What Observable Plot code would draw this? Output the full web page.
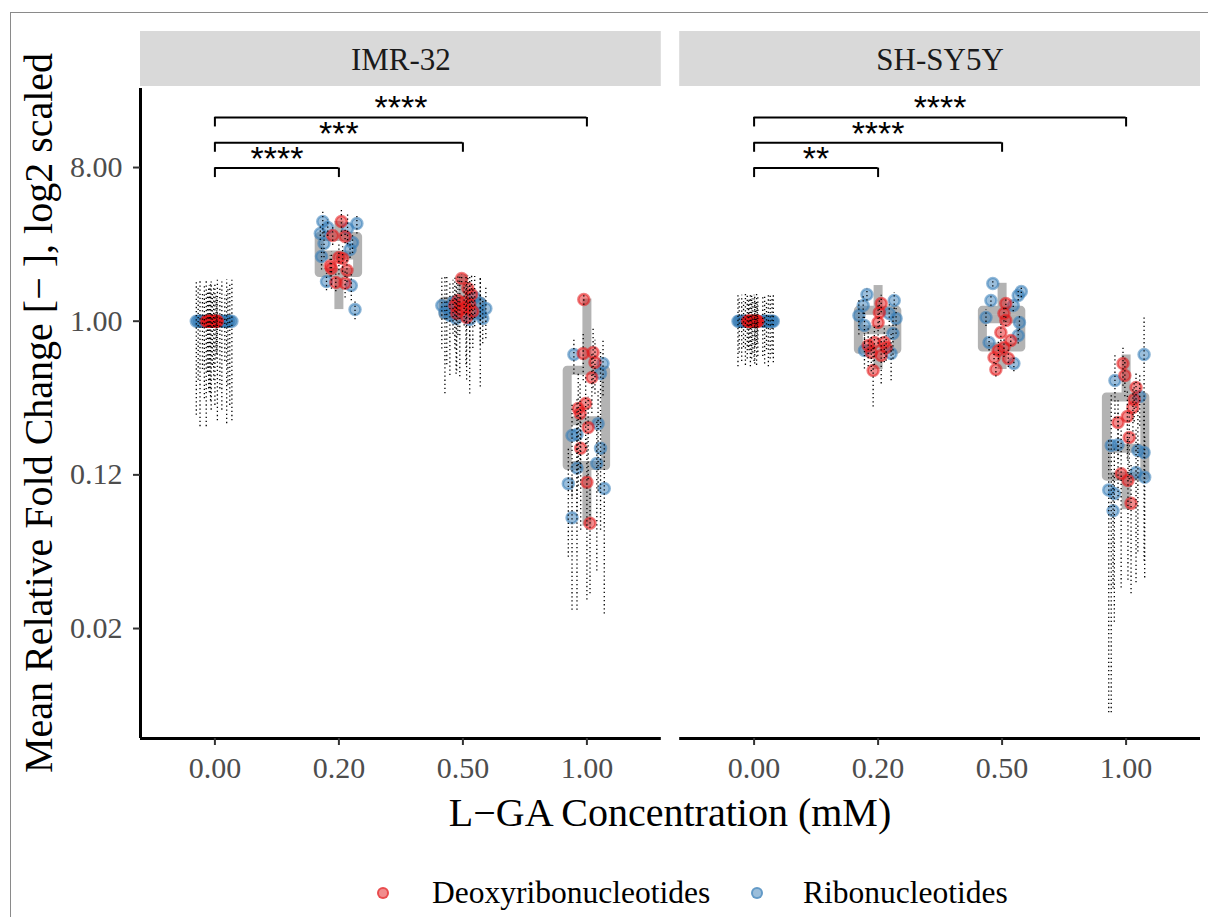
<!DOCTYPE html>
<html>
<head>
<meta charset="utf-8">
<script src="https://cdn.jsdelivr.net/npm/d3@7"></script>
<script src="https://cdn.jsdelivr.net/npm/@observablehq/plot@0.6"></script>
<style>
  body { margin: 0; background: #fff; }
  #fig { position: relative; width: 1208px; height: 917px; overflow: hidden; background: #fff; }
  #chart { position: absolute; left: 0; top: 0; }
  #border { position: absolute; left: 10px; top: 12px; width: 1300px; height: 1000px;
            border-left: 1px solid #8a8a8a; border-top: 1px solid #8a8a8a; pointer-events: none; }
  #legend { position: absolute; left: 0; top: 850px; width: 1208px; height: 67px;
            font-family: "Liberation Serif", serif; font-size: 31.5px; color: #000; }
  #legend .key { position: absolute; width: 8px; height: 8px; border-radius: 50%; top: 37px; }
  #legend .lab { position: absolute; top: 27px; line-height: 31.5px; white-space: nowrap; }
</style>
</head>
<body>
<div id="fig">
  <div id="chart"></div>
  <div id="legend">
    <span class="key" style="left:377px; background: rgba(228,26,28,0.5); border: 2px solid rgba(228,26,28,0.55);"></span>
    <span class="lab" style="left:432px;">Deoxyribonucleotides</span>
    <span class="key" style="left:751px; background: rgba(55,126,184,0.5); border: 2px solid rgba(55,126,184,0.55);"></span>
    <span class="lab" style="left:803px;">Ribonucleotides</span>
  </div>
  <div id="border"></div>
</div>
<script>
// ---------------- DATA ----------------
const cells = ["IMR-32", "SH-SY5Y"];
const concLabels = ["0.00", "0.20", "0.50", "1.00"];
const types = ["Deoxyribonucleotides", "Ribonucleotides"];
const yTicks = [1 / 64, 1 / 8, 1, 8];
const yTickLabels = ["0.02", "0.12", "1.00", "8.00"];
const yTitle = "Mean Relative Fold Change [\u2212 ], log2 scaled";
const xTitle = "L\u2212GA Concentration (mM)";

// IMR-32, per concentration: mean relative fold change, jitter (fraction of a category), SD
const imrDeoxyValue = [
  [1, 1, 1, 1, 1, 1, 1, 1, 1, 1, 1, 1],
  [3.85, 3.19, 3.15, 2.37, 2.34, 2.12, 2.04, 1.99, 1.69, 1.67],
  [1.78, 1.556, 1.435, 1.323, 1.288, 1.254, 1.237, 1.204, 1.171, 1.140, 1.051, 1.110],
  [1.341, 0.646, 0.655, 0.572, 0.467, 0.328, 0.307, 0.287, 0.237, 0.179, 0.113, 0.065]
];
const imrDeoxyJitter = [
  [-0.07, -0.06, -0.045, -0.03, -0.02, -0.01, 0.0, 0.01, 0.02, -0.05, 0.015, -0.035],
  [0.02, -0.05, 0.05, 0.0, 0.03, -0.07, -0.06, 0.065, -0.025, 0.05],
  [-0.01, 0.04, 0.07, -0.04, 0.01, 0.055, -0.065, 0.025, -0.025, 0.08, 0.03, -0.05],
  [-0.025, -0.03, 0.05, 0.065, 0.04, -0.01, -0.07, -0.055, 0.01, -0.05, 0.0, 0.025]
];
const imrDeoxySD = [
  [0.76, 0.5, 0.62, 0.7, 0.45, 0.55, 0.68, 0.4, 0.74, 0.6, 0.35, 0.66],
  [0.7, 0.4, 0.3, 0.5, 0.4, 0.3, 0.5, 0.3, 0.2, 0.3],
  [0.1, 0.3, 0.4, 0.5, 0.35, 0.6, 0.55, 0.65, 0.7, 0.45, 0.6, 0.6],
  [0.1, 0.2, 0.25, 0.2, 0.18, 0.15, 0.2, 0.15, 0.12, 0.12, 0.09, 0.04]
];
const imrRiboValue = [
  [1, 1, 1, 1, 1, 1, 1, 1, 1, 1, 1, 1],
  [3.85, 3.75, 3.55, 3.51, 3.28, 2.90, 2.86, 2.64, 2.40, 1.71, 1.62, 1.17],
  [1.204, 1.080, 1.288, 1.271, 1.110, 1.037, 1.378, 1.125, 1.037, 1.188, 1.237, 1.023],
  [0.637, 0.564, 0.493, 0.250, 0.213, 0.216, 0.179, 0.146, 0.137, 0.111, 0.104, 0.070]
];
const imrRiboJitter = [
  [-0.15, -0.135, -0.12, -0.1, -0.085, 0.04, 0.056, 0.08, 0.095, 0.105, 0.12, 0.137],
  [-0.13, 0.145, -0.09, 0.07, -0.15, 0.11, -0.12, 0.09, -0.14, -0.10, 0.10, 0.13],
  [-0.13, -0.105, -0.08, 0.14, 0.14, 0.16, 0.095, -0.145, -0.055, 0.185, -0.17, 0.055],
  [-0.105, 0.13, 0.11, 0.09, -0.12, -0.08, 0.11, 0.08, -0.08, -0.15, 0.14, -0.12]
];
const imrRiboSD = [
  [0.72, 0.55, 0.76, 0.48, 0.65, 0.6, 0.7, 0.42, 0.75, 0.58, 0.68, 0.74],
  [0.6, 0.5, 0.4, 0.7, 0.3, 0.4, 0.5, 0.3, 0.4, 0.2, 0.3, 0.15],
  [0.65, 0.6, 0.45, 0.55, 0.7, 0.3, 0.45, 0.75, 0.55, 0.4, 0.55, 0.65],
  [0.15, 0.2, 0.18, 0.15, 0.12, 0.14, 0.12, 0.112, 0.117, 0.07, 0.085, 0.05]
];

// SH-SY5Y
const shDeoxyValue = [
  [1, 1, 1, 1, 1, 1, 1, 1, 1, 1, 1, 1],
  [1.271, 1.125, 0.983, 0.749, 0.749, 0.655, 0.628, 0.513, 0.701, 0.719],
  [1.271, 1.110, 1.010, 0.858, 0.770, 0.673, 0.612, 0.604, 0.520, 0.701],
  [0.564, 0.480, 0.408, 0.346, 0.311, 0.275, 0.254, 0.207, 0.127, 0.116, 0.085]
];
const shDeoxyJitter = [
  [-0.055, -0.045, -0.03, -0.015, 0.0, 0.01, 0.02, 0.03, -0.04, 0.005, 0.025, -0.02],
  [0.025, 0.01, 0.0, -0.03, 0.05, -0.055, 0.025, -0.04, 0.065, -0.08],
  [0.03, 0.015, 0.03, -0.01, 0.07, -0.03, -0.065, 0.05, -0.05, 0.015],
  [-0.025, -0.01, 0.08, 0.065, 0.055, 0.01, -0.065, 0.025, -0.04, 0.015, 0.04]
];
const shDeoxySD = [
  [0.4, 0.3, 0.46, 0.35, 0.42, 0.28, 0.45, 0.38, 0.33, 0.44, 0.25, 0.4],
  [0.15, 0.2, 0.25, 0.2, 0.18, 0.15, 0.2, 0.2, 0.12, 0.18],
  [0.1, 0.12, 0.08, 0.1, 0.06, 0.08, 0.05, 0.07, 0.05, 0.09],
  [0.15, 0.12, 0.1, 0.09, 0.1, 0.12, 0.1, 0.09, 0.1, 0.086, 0.06]
];
const shRiboValue = [
  [1, 1, 1, 1, 1, 1, 1, 1, 1, 1, 1, 1],
  [1.435, 1.237, 1.080, 0.943, 1.323, 1.037, 0.847, 0.673, 0.646, 1.110],
  [1.666, 1.323, 1.495, 1.416, 1.051, 0.749, 0.983, 0.824, 0.564, 1.237],
  [0.637, 0.448, 0.361, 0.186, 0.188, 0.174, 0.169, 0.129, 0.121, 0.102, 0.097, 0.077]
];
const shRiboJitter = [
  [-0.13, -0.12, -0.1, -0.085, -0.07, 0.07, 0.085, 0.1, 0.115, 0.13, 0.145, 0.155],
  [-0.09, -0.12, -0.155, -0.11, 0.13, 0.145, 0.12, -0.11, 0.105, 0.09],
  [-0.075, -0.09, 0.155, 0.13, -0.13, -0.105, 0.14, 0.13, 0.095, 0.09],
  [0.145, -0.09, 0.11, -0.12, -0.065, 0.095, 0.145, 0.08, 0.15, -0.14, -0.095, -0.105]
];
const shRiboSD = [
  [0.46, 0.35, 0.42, 0.3, 0.45, 0.38, 0.44, 0.32, 0.46, 0.4, 0.36, 0.43],
  [0.12, 0.2, 0.25, 0.2, 0.15, 0.2, 0.25, 0.15, 0.2, 0.18],
  [0.08, 0.1, 0.12, 0.1, 0.12, 0.08, 0.1, 0.09, 0.06, 0.1],
  [0.42, 0.18, 0.12, 0.181, 0.1, 0.13, 0.13, 0.1, 0.09, 0.097, 0.08, 0.05]
];

// Box plot statistics per cell line (rows) and concentration (columns)
const boxLo  = [[1, 1.17, 0.99, 0.0625], [1, 0.52, 0.52, 0.078]];
const boxQ1  = [[1, 1.92, 1.08, 0.141],  [1, 0.68, 0.70, 0.122]];
const boxMed = [[1, 2.45, 1.16, 0.26],   [1, 0.89, 1.035, 0.179]];
const boxQ3  = [[1, 3.12, 1.30, 0.512],  [1, 1.15, 1.15, 0.356]];
const boxHi  = [[1, 3.86, 1.87, 1.35],   [1, 1.62, 1.67, 0.633]];

// Significance brackets (vs 0.00 mM)
const bracketTo = [1, 2, 3];
const bracketY = [7.94, 11.18, 15.75];
const imrBracketLabels = ["****", "***", "****"];
const shBracketLabels = ["**", "****", "****"];

// ---------------- BUILD ----------------
const series = [
  {cell: cells[0], type: types[1], v: imrRiboValue, j: imrRiboJitter, s: imrRiboSD},
  {cell: cells[1], type: types[1], v: shRiboValue, j: shRiboJitter, s: shRiboSD},
  {cell: cells[0], type: types[0], v: imrDeoxyValue, j: imrDeoxyJitter, s: imrDeoxySD},
  {cell: cells[1], type: types[0], v: shDeoxyValue, j: shDeoxyJitter, s: shDeoxySD}
];
const points = series.flatMap(s => s.v.flatMap((vals, i) => vals.map((v, k) => ({
  cell: s.cell, type: s.type, i, value: v, jit: s.j[i][k], sd: s.s[i][k]
}))));
const boxes = cells.flatMap((cell, c) => concLabels.map((_, i) => ({
  cell, i, lo: boxLo[c][i], q1: boxQ1[c][i], med: boxMed[c][i], q3: boxQ3[c][i], hi: boxHi[c][i]
})));
const brackets = cells.flatMap((cell, c) => bracketTo.map((to, k) => ({
  cell, from: 0, to, y: bracketY[k], label: (c === 0 ? imrBracketLabels : shBracketLabels)[k]
})));

const W = 1208, H = 850;
const yDomain = [2 ** -8.147, 2 ** 4.543];
const xDomain = [-0.6, 3.6];
const tip = 2 ** -0.185;
const boxHalf = 0.155;
const grey = "#b3b3b3";

const chart = Plot.plot({
  width: W, height: H,
  marginLeft: 140, marginRight: 8, marginTop: 88, marginBottom: H - 738,
  style: {fontFamily: "Liberation Serif", background: "transparent", overflow: "visible"},
  x: {type: "linear", domain: xDomain, axis: null},
  y: {type: "log", base: 2, domain: yDomain, axis: null},
  fx: {domain: cells, paddingInner: 0.0341, paddingOuter: 0, round: false, axis: null},
  color: {domain: types, range: ["#E41A1C", "#377EB8"]},
  marks: [
    // strip headers
    Plot.rect(cells, {fx: d => d, x1: xDomain[0], x2: xDomain[1], y1: 2 ** 4.582, y2: 2 ** 5.656, fill: "#d9d9d9"}),
    Plot.text(cells, {fx: d => d, frameAnchor: "top", dy: -41, text: d => d, fontSize: 31, fill: "#1a1a1a"}),
    // box plots
    Plot.ruleX(boxes, {fx: "cell", x: "i", y1: "q3", y2: "hi", stroke: grey, strokeWidth: 9}),
    Plot.ruleX(boxes, {fx: "cell", x: "i", y1: "lo", y2: "q1", stroke: grey, strokeWidth: 9}),
    Plot.rect(boxes, {fx: "cell", x1: d => d.i - boxHalf, x2: d => d.i + boxHalf, y1: "q1", y2: "q3",
      fill: "none", stroke: grey, strokeWidth: 9, strokeLinejoin: "round"}),
    Plot.ruleY(boxes, {fx: "cell", y: "med", x1: d => d.i - boxHalf, x2: d => d.i + boxHalf, stroke: grey, strokeWidth: 9}),
    // points
    Plot.dot(points, {fx: "cell", x: d => d.i + d.jit, y: "value", r: 5.5, fill: "type", stroke: "type",
      fillOpacity: 0.5, strokeOpacity: 0.55, strokeWidth: 2.5}),
    // dotted error bars
    Plot.ruleX(points, {fx: "cell", x: d => d.i + d.jit, y1: d => d.value - d.sd, y2: d => d.value + d.sd,
      stroke: "#000", strokeWidth: 1.3, strokeDasharray: "1.3,2.8"}),
    // significance brackets
    Plot.ruleY(brackets, {fx: "cell", y: "y", x1: "from", x2: "to", stroke: "#000", strokeWidth: 2}),
    Plot.ruleX(brackets, {fx: "cell", x: "from", y1: d => d.y * tip, y2: "y", stroke: "#000", strokeWidth: 2}),
    Plot.ruleX(brackets, {fx: "cell", x: "to", y1: d => d.y * tip, y2: "y", stroke: "#000", strokeWidth: 2}),
    Plot.text(brackets, {fx: "cell", x: d => (d.from + d.to) / 2, y: "y", text: "label", dy: -9,
      fontFamily: "Liberation Sans", fontSize: 34, fill: "#000"}),
    // axis lines
    Plot.ruleY(cells, {fx: d => d, y: yDomain[0], x1: xDomain[0], x2: xDomain[1], stroke: "#000", strokeWidth: 3}),
    Plot.ruleX([cells[0]], {fx: d => d, x: xDomain[0], y1: yDomain[0], y2: yDomain[1], stroke: "#000", strokeWidth: 3}),
    // axes
    Plot.axisY({anchor: "left", facetAnchor: "left", ticks: yTicks, tickFormat: (d, i) => yTickLabels[yTicks.indexOf(d)],
      tickSize: 7, tickPadding: 11, fontSize: 30, stroke: "#333333", fill: "#4d4d4d", strokeWidth: 2, label: null}),
    Plot.axisX({anchor: "bottom", ticks: [0, 1, 2, 3], tickFormat: d => concLabels[d],
      tickSize: 7, tickPadding: 11, fontSize: 30, stroke: "#333333", fill: "#4d4d4d", strokeWidth: 2, label: null})
  ]
});
document.getElementById("chart").appendChild(chart);

// axis titles
const svg = d3.select(chart);
svg.append("text")
  .attr("transform", "translate(52,413) rotate(-90)")
  .attr("text-anchor", "middle")
  .attr("font-family", "Liberation Serif").attr("font-size", 40).attr("fill", "#000")
  .text(yTitle);
svg.append("text")
  .attr("x", 670).attr("y", 826)
  .attr("text-anchor", "middle")
  .attr("font-family", "Liberation Serif").attr("font-size", 40).attr("fill", "#000")
  .text(xTitle);
</script>
</body>
</html>
